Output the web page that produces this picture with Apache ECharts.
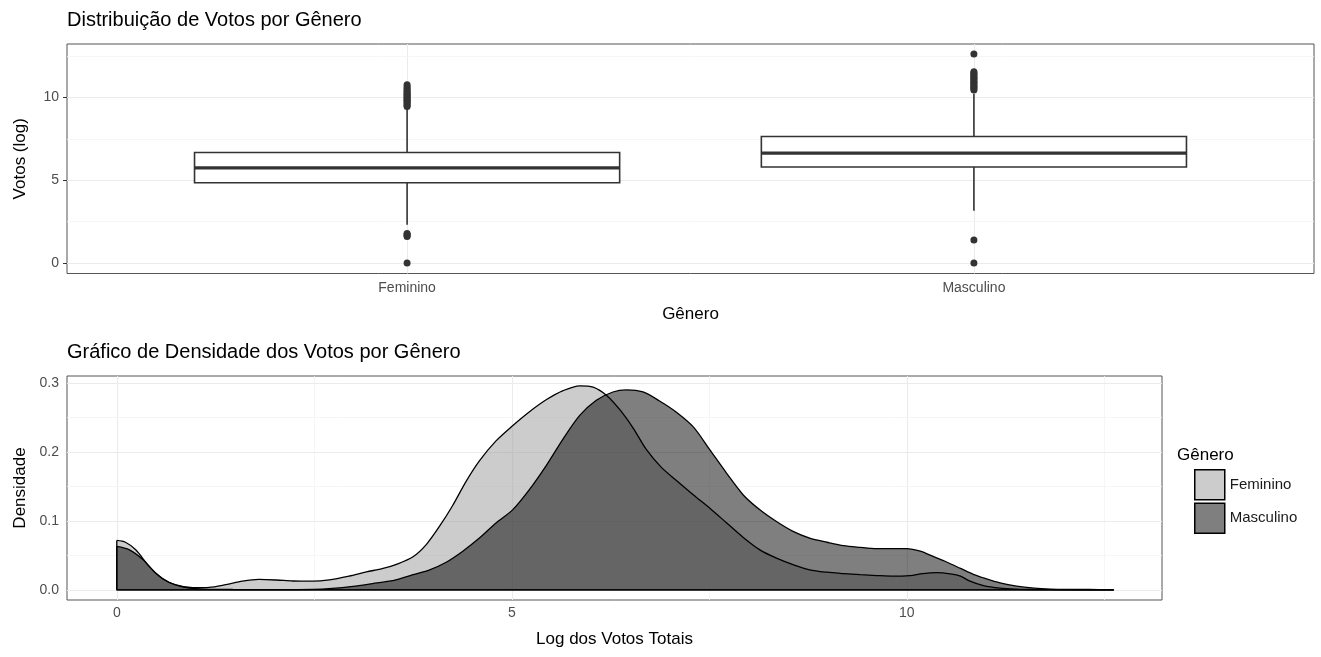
<!DOCTYPE html>
<html><head><meta charset="utf-8">
<script src="https://cdn.jsdelivr.net/npm/echarts@6/dist/echarts.min.js"></script>
<style>html,body{margin:0;padding:0;background:#fff}#c{width:1321px;height:657px}</style>
</head><body><div id="c"></div>
<script>
// ---------- data ----------
const generos = ['Feminino', 'Masculino'];
// box stats: [lowerWhisker, Q1, median, Q3, upperWhisker]
const boxFeminino  = [2.32, 4.85, 5.75, 6.68, 9.40];
const boxMasculino = [3.16, 5.80, 6.64, 7.64, 10.22];
const outFeminino  = [0, 1.61, 1.66, 1.72, 1.79, 9.46, 9.52, 9.60, 9.68, 9.75, 9.83, 9.90, 9.98, 10.05, 10.13, 10.20, 10.28, 10.36, 10.45, 10.55, 10.65, 10.77];
const outMasculino = [0, 1.39, 10.45, 10.52, 10.60, 10.68, 10.76, 10.84, 10.92, 11.00, 11.08, 11.16, 11.24, 11.32, 11.40, 11.48, 11.55, 12.62];
const boxTicksY  = [0, 5, 10];
const boxMinorY  = [2.5, 7.5, 12.5];
const densTicksX = [0, 5, 10];
const densMinorX = [2.5, 7.5, 12.5];
const densTicksY = [0, 0.1, 0.2, 0.3];
const densMinorY = [0.05, 0.15, 0.25];
const densFeminino = [
 [0,0.0717],[0.11,0.069],[0.24,0.058],[0.41,0.034],[0.58,0.016],[0.75,0.007],[0.96,0.003],[1.17,0.0035],
 [1.38,0.0075],[1.59,0.0125],[1.80,0.015],[2.02,0.0142],[2.23,0.0128],[2.48,0.0125],[2.69,0.0145],[2.94,0.020],
 [3.16,0.026],[3.37,0.031],[3.54,0.037],[3.75,0.048],[3.92,0.066],[4.09,0.093],[4.25,0.122],[4.42,0.157],
 [4.59,0.187],[4.80,0.216],[5.01,0.238],[5.22,0.258],[5.44,0.276],[5.65,0.289],[5.86,0.296],[6.03,0.294],
 [6.20,0.282],[6.37,0.261],[6.54,0.234],[6.70,0.204],[6.89,0.178],[7.08,0.159],[7.30,0.1376],[7.51,0.118],
 [7.72,0.097],[7.93,0.076],[8.14,0.058],[8.35,0.046],[8.56,0.0366],[8.77,0.029],[8.99,0.0255],[9.20,0.0236],
 [9.41,0.022],[9.62,0.0207],[9.83,0.0198],[10.04,0.0207],[10.20,0.0235],[10.38,0.0248],[10.55,0.023],[10.68,0.0197],
 [10.80,0.0125],[10.97,0.006],[11.18,0.0024],[11.39,0.001],[11.61,0.0004],[12.0,0.0001],[12.62,0]
];
const densMasculino = [
 [0,0.063],[0.16,0.058],[0.33,0.044],[0.49,0.0245],[0.66,0.011],[0.83,0.0043],[1.04,0.0014],[1.47,0.0004],
 [2.0,0.0002],[2.48,0.0005],[2.73,0.002],[2.99,0.005],[3.24,0.009],[3.45,0.0125],[3.58,0.016],[3.75,0.022],
 [3.96,0.029],[4.17,0.040],[4.38,0.056],[4.59,0.075],[4.80,0.097],[5.01,0.116],[5.22,0.145],[5.44,0.181],
 [5.65,0.219],[5.86,0.253],[6.07,0.275],[6.28,0.287],[6.45,0.290],[6.66,0.287],[6.87,0.274],[7.08,0.258],
 [7.30,0.236],[7.51,0.2025],[7.72,0.169],[7.93,0.1376],[8.14,0.116],[8.35,0.099],[8.56,0.0847],[8.77,0.075],
 [8.99,0.069],[9.20,0.064],[9.41,0.0616],[9.62,0.0598],[9.83,0.0596],[10.0,0.0597],[10.17,0.056],[10.34,0.048],
 [10.51,0.040],[10.68,0.031],[10.85,0.022],[10.97,0.0173],[11.18,0.0101],[11.39,0.0053],[11.61,0.0024],[11.82,0.001],
 [12.03,0.0005],[12.3,0.0004],[12.62,0.0003]
];

// ---------- styling ----------
const FONT = "'Liberation Sans', Arial, sans-serif";
const TICK_COLOR = '#4d4d4d';
const MAJOR = '#ebebeb', MINOR = '#f4f4f4';
const TICK_FS = 14, AXTITLE_FS = 17, TITLE_FS = 20;

function gridLines(xi, yi, xs, ys) {
  const data = [];
  xs.forEach(v => data.push({ xAxis: v[0], lineStyle: { color: v[1], width: v[2], type: 'solid' } }));
  ys.forEach(v => data.push({ yAxis: v[0], lineStyle: { color: v[1], width: v[2], type: 'solid' } }));
  return {
    type: 'line', xAxisIndex: xi, yAxisIndex: yi, data: [], silent: true, z: 1,
    markLine: { z: 1, symbol: ['none', 'none'], silent: true, animation: false, label: { show: false }, data }
  };
}
const maj = v => [v, MAJOR, 1.1];
const min = v => [v, MINOR, 0.8];

function renderBox(params, api) {
  const x = api.value(0);
  const lo = api.value(1), q1 = api.value(2), med = api.value(3), q3 = api.value(4), hi = api.value(5);
  const half = 0.375;
  const tl = api.coord([x - half, q3]);
  const br = api.coord([x + half, q1]);
  const cx = api.coord([x, med])[0];
  const yLo = api.coord([x, lo])[1], yHi = api.coord([x, hi])[1], yMed = api.coord([x, med])[1];
  const st = { stroke: '#333', lineWidth: 1.6 };
  return { type: 'group', children: [
    { type: 'line', shape: { x1: cx, y1: tl[1], x2: cx, y2: yHi }, style: st },
    { type: 'line', shape: { x1: cx, y1: br[1], x2: cx, y2: yLo }, style: st },
    { type: 'rect', shape: { x: tl[0], y: tl[1], width: br[0] - tl[0], height: br[1] - tl[1] }, style: { fill: '#fff', stroke: '#333', lineWidth: 1.6 } },
    { type: 'line', shape: { x1: tl[0], y1: yMed, x2: br[0], y2: yMed }, style: { stroke: '#333', lineWidth: 3.2 } }
  ]};
}

function outline(d) {
  const x0 = d[0][0], y0 = d[0][1], xe = d[d.length - 1][0];
  return [[xe, 0], [x0, 0], [x0, y0]];
}

const axisCommon = {
  axisLine: { show: false },
  splitLine: { show: false },
  nameTextStyle: { fontFamily: FONT, fontSize: AXTITLE_FS, color: '#000' }
};

const option = {
  animation: false,
  textStyle: { fontFamily: FONT },
  title: [
    { text: 'Distribuição de Votos por Gênero', left: 67, top: 10, padding: 0, textStyle: { fontFamily: FONT, fontSize: TITLE_FS, fontWeight: 'normal', color: '#000' } },
    { text: 'Gráfico de Densidade dos Votos por Gênero', left: 67, top: 342, padding: 0, textStyle: { fontFamily: FONT, fontSize: TITLE_FS, fontWeight: 'normal', color: '#000' } },
    { text: 'Gênero', left: 1177, top: 447, padding: 0, textStyle: { fontFamily: FONT, fontSize: AXTITLE_FS, fontWeight: 'normal', color: '#000' } }
  ],
  legend: {
    orient: 'vertical', left: 1194, top: 469, padding: 0, itemWidth: 30, itemHeight: 30, itemGap: 2,
    icon: 'rect', selectedMode: false,
    data: [
      { name: 'Feminino', itemStyle: { color: '#cccccc', borderColor: '#000', borderWidth: 1.5 } },
      { name: 'Masculino', itemStyle: { color: '#7f7f7f', borderColor: '#000', borderWidth: 1.5 } }
    ],
    textStyle: { fontFamily: FONT, fontSize: 15, color: '#1a1a1a' }
  },
  grid: [
    { left: 67, top: 44, width: 1247, height: 229.5, show: true, borderColor: '#555', borderWidth: 1, backgroundColor: 'transparent' },
    { left: 67, top: 376, width: 1095, height: 224, show: true, borderColor: '#555', borderWidth: 1, backgroundColor: 'transparent' }
  ],
  xAxis: [
    Object.assign({}, axisCommon, {
      type: 'value', gridIndex: 0, min: 0.4, max: 2.6,
      name: 'Gênero', nameLocation: 'middle', nameGap: 32,
      axisTick: { customValues: [1, 2], length: 4, lineStyle: { color: '#333' } },
      axisLabel: { customValues: [1, 2], formatter: v => generos[Math.round(v) - 1], fontSize: TICK_FS, color: TICK_COLOR, margin: 8, fontFamily: FONT }
    }),
    Object.assign({}, axisCommon, {
      type: 'value', gridIndex: 1, min: -0.63, max: 13.23,
      name: 'Log dos Votos Totais', nameLocation: 'middle', nameGap: 31,
      axisTick: { customValues: densTicksX, length: 4, lineStyle: { color: '#333' } },
      axisLabel: { customValues: densTicksX, fontSize: TICK_FS, color: TICK_COLOR, margin: 6, fontFamily: FONT }
    })
  ],
  yAxis: [
    Object.assign({}, axisCommon, {
      type: 'value', gridIndex: 0, min: -0.63, max: 13.23,
      name: 'Votos (log)', nameLocation: 'middle', nameGap: 38,
      axisTick: { customValues: boxTicksY, length: 4, lineStyle: { color: '#333' } },
      axisLabel: { customValues: boxTicksY, fontSize: TICK_FS, color: TICK_COLOR, margin: 8, fontFamily: FONT }
    }),
    Object.assign({}, axisCommon, {
      type: 'value', gridIndex: 1, min: -0.0148, max: 0.3102,
      name: 'Densidade', nameLocation: 'middle', nameGap: 38,
      axisTick: { customValues: densTicksY, length: 4, lineStyle: { color: '#333' } },
      axisLabel: { customValues: densTicksY, formatter: v => v.toFixed(1), fontSize: TICK_FS, color: TICK_COLOR, margin: 8, fontFamily: FONT }
    })
  ],
  series: [
    gridLines(0, 0, [1, 2].map(maj), boxTicksY.map(maj).concat(boxMinorY.map(min))),
    gridLines(1, 1, densTicksX.map(maj).concat(densMinorX.map(min)), densTicksY.map(maj).concat(densMinorY.map(min))),
    {
      type: 'custom', xAxisIndex: 0, yAxisIndex: 0, z: 10, silent: true,
      renderItem: renderBox,
      encode: { x: 0, y: [1, 2, 3, 4, 5] },
      data: [[1].concat(boxFeminino), [2].concat(boxMasculino)]
    },
    {
      type: 'scatter', xAxisIndex: 0, yAxisIndex: 0, z: 11, silent: true, symbolSize: 7,
      itemStyle: { color: '#333', opacity: 1 },
      data: outFeminino.map(v => [1, v]).concat(outMasculino.map(v => [2, v]))
    },
    {
      type: 'line', name: 'Feminino', xAxisIndex: 1, yAxisIndex: 1, z: 10, silent: true,
      data: densFeminino, smooth: 0.3, symbol: 'none',
      lineStyle: { color: '#000', width: 1.3 },
      itemStyle: { color: '#cccccc' },
      areaStyle: { color: 'rgba(153,153,153,0.5)', opacity: 1 }
    },
    {
      type: 'line', name: 'FemOutline', xAxisIndex: 1, yAxisIndex: 1, z: 10, silent: true,
      data: outline(densFeminino), symbol: 'none', lineStyle: { color: '#000', width: 1.3 }
    },
    {
      type: 'line', name: 'Masculino', xAxisIndex: 1, yAxisIndex: 1, z: 12, silent: true,
      data: densMasculino, smooth: 0.3, symbol: 'none',
      lineStyle: { color: '#000', width: 1.3 },
      itemStyle: { color: '#7f7f7f' },
      areaStyle: { color: 'rgba(0,0,0,0.5)', opacity: 1 }
    },
    {
      type: 'line', name: 'MascOutline', xAxisIndex: 1, yAxisIndex: 1, z: 12, silent: true,
      data: outline(densMasculino), symbol: 'none', lineStyle: { color: '#000', width: 1.3 }
    }
  ]
};

const chart = echarts.init(document.getElementById('c'), null, { renderer: 'canvas' });
chart.setOption(option);
</script>
</body></html>
